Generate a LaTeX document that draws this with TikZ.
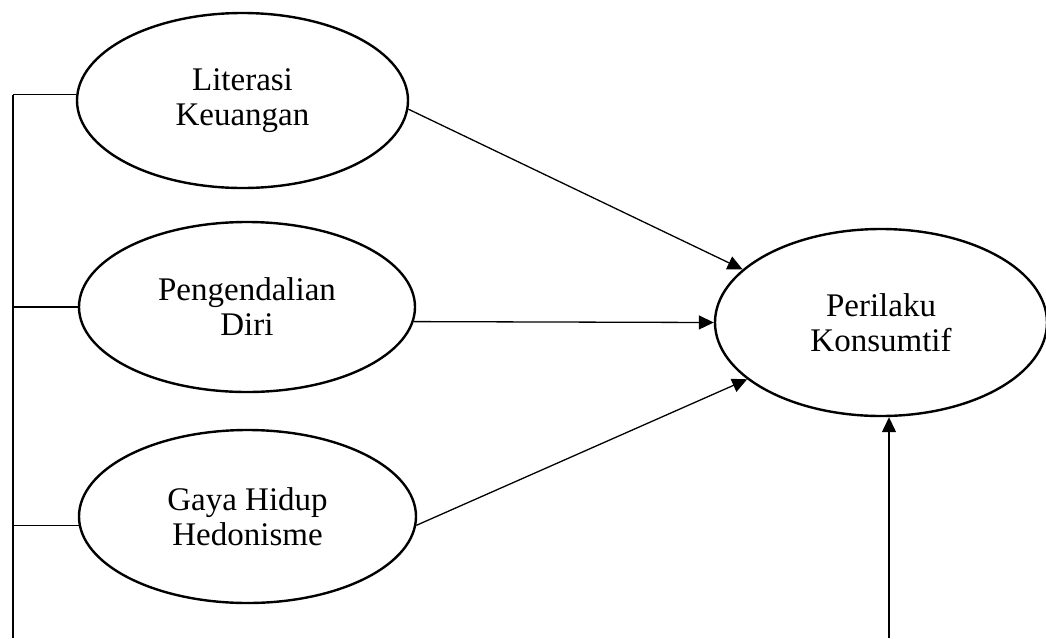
\documentclass[tikz,border=0pt]{standalone}
\usepackage{fontspec}
\setmainfont{Liberation Serif}
\usetikzlibrary{shapes.geometric,arrows.meta}
\begin{document}
\begin{tikzpicture}[x=1pt,y=-1pt,
  var/.style={ellipse,draw,line width=2.4pt,inner sep=0pt,align=center,
    font=\fontsize{33}{35}\selectfont},
  conn/.style={line width=1.3pt},
  arr/.style={conn,-{Triangle[length=15pt,width=14pt]}}]
\useasboundingbox (0,0) rectangle (1046,638);
\node[var,minimum width=331pt,minimum height=175pt] (lk) at (242.5,100.5) {Literasi\\Keuangan};
\node[var,minimum width=336pt,minimum height=170pt] (pd) at (247,307) {Pengendalian\\Diri};
\node[var,minimum width=337pt,minimum height=173pt] (gh) at (247.5,516.5) {Gaya Hidup\\Hedonisme};
\node[var,minimum width=332pt,minimum height=187pt] (pk) at (881,322.5) {Perilaku\\Konsumtif};
\coordinate (sp) at (13,638);
\coordinate (bt) at (889,638);
\draw[conn] (sp) -- (sp |- lk.178);
\draw[conn] (lk.178) -- (lk.178 -| sp);
\draw[conn] (pd.west) -- (pd.west -| sp);
\draw[conn] (gh.183) -- (gh.183 -| sp);
\draw[arr] (lk.357) -- (pk.159);
\draw[arr] (pd.355) -- (pk.west);
\draw[arr] (gh.357) -- (pk.203);
\draw[arr] (bt) -- (bt |- pk.south);
\end{tikzpicture}
\end{document}
